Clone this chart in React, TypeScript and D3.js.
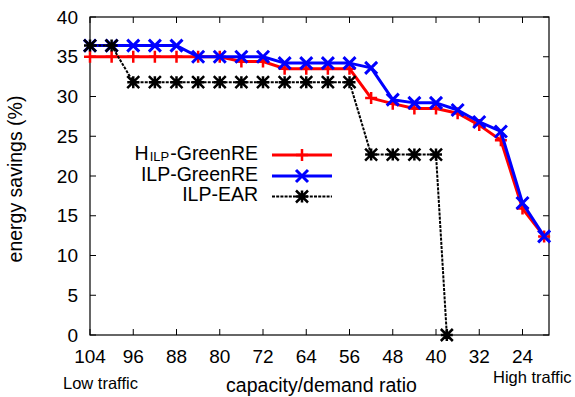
import React from "react";
import * as d3 from "d3";

const xValues = [104, 100, 96, 92, 88, 84, 80, 76, 72, 68, 64, 60, 56, 52, 48, 44, 40, 36, 32, 28, 24, 20];
const hilpGreenRE = [35, 35, 35, 35, 35, 35, 35, 34.4, 34.4, 33.5, 33.5, 33.5, 33.5, 29.8, 29.1, 28.5, 28.5, 27.9, 26.4, 24.5, 15.9, 12.4];
const ilpGreenRE = [36.4, 36.4, 36.4, 36.4, 36.4, 35, 35, 35, 35, 34.2, 34.2, 34.2, 34.2, 33.6, 29.6, 29.2, 29.2, 28.3, 26.8, 25.6, 16.6, 12.4];
const earX = [104, 100, 96, 92, 88, 84, 80, 76, 72, 68, 64, 60, 56, 52, 48, 44, 40, 38];
const ilpEAR = [36.4, 36.4, 31.8, 31.8, 31.8, 31.8, 31.8, 31.8, 31.8, 31.8, 31.8, 31.8, 31.8, 22.7, 22.7, 22.7, 22.7, 0];
const xTicks = [104, 96, 88, 80, 72, 64, 56, 48, 40, 32, 24];
const yTicks = [0, 5, 10, 15, 20, 25, 30, 35, 40];

const W = 575;
const H = 397;
const left = 90;
const right = 549;
const top = 17;
const bottom = 335;
const FONT = "'Liberation Sans', Arial, Helvetica, sans-serif";

type Marker = "plus" | "cross" | "star";

function markerPath(kind: Marker, cx: number, cy: number, r: number): string {
  const p: string[] = [];
  if (kind === "plus" || kind === "star") {
    p.push(`M${cx - r},${cy}L${cx + r},${cy}`, `M${cx},${cy - r}L${cx},${cy + r}`);
  }
  if (kind === "cross" || kind === "star") {
    p.push(`M${cx - r},${cy - r}L${cx + r},${cy + r}`, `M${cx - r},${cy + r}L${cx + r},${cy - r}`);
  }
  return p.join("");
}

export default function App() {
  const x = d3.scaleLinear().domain([104, 19.1]).range([left, right]);
  const y = d3.scaleLinear().domain([0, 40]).range([bottom, top]);
  const line = d3
    .line<[number, number]>()
    .x((d) => x(d[0]))
    .y((d) => y(d[1]));

  const series = [
    { name: "H", sub: "ILP", rest: "-GreenRE", xs: xValues, ys: hilpGreenRE, color: "#ff0000", width: 3, dash: undefined as string | undefined, marker: "plus" as Marker, mr: 6, mw: 2.5 },
    { name: "ILP-GreenRE", sub: "", rest: "", xs: xValues, ys: ilpGreenRE, color: "#0000ff", width: 3, dash: undefined, marker: "cross" as Marker, mr: 6, mw: 3 },
    { name: "ILP-EAR", sub: "", rest: "", xs: earX, ys: ilpEAR, color: "#000000", width: 2, dash: "3,1.2", marker: "star" as Marker, mr: 6, mw: 2.5 },
  ];

  const legendRows = [155, 176, 196.5];
  const legX1 = 272;
  const legX2 = 332;
  const legTextRight = 258;

  return (
    <svg width={W} height={H} style={{ position: "absolute", left: 0, top: 0, background: "#fff" }} fontFamily={FONT}>
      <rect x={0} y={0} width={W} height={H} fill="#fff" />
      {/* ticks */}
      {xTicks.map((t) => (
        <g key={"xt" + t}>
          <line x1={x(t)} x2={x(t)} y1={bottom} y2={bottom - 6} stroke="#000" strokeWidth={1} />
          <line x1={x(t)} x2={x(t)} y1={top} y2={top + 6} stroke="#000" strokeWidth={1} />
          <text x={x(t)} y={363} textAnchor="middle" fontSize={19}>{t}</text>
        </g>
      ))}
      {yTicks.map((t) => (
        <g key={"yt" + t}>
          <line x1={left} x2={left + 6} y1={y(t)} y2={y(t)} stroke="#000" strokeWidth={1} />
          <line x1={right} x2={right - 6} y1={y(t)} y2={y(t)} stroke="#000" strokeWidth={1} />
          <text x={78} y={y(t)} dy="0.35em" textAnchor="end" fontSize={19}>{t}</text>
        </g>
      ))}
      <rect x={left} y={top} width={right - left} height={bottom - top} fill="none" stroke="#000" strokeWidth={1.2} />

      {/* series */}
      {series.map((s, i) => {
        const pts: [number, number][] = s.xs.map((v, j) => [v, s.ys[j]]);
        return (
          <g key={"s" + i}>
            <path d={line(pts) || ""} fill="none" stroke={s.color} strokeWidth={s.width} strokeDasharray={s.dash} strokeLinejoin="round" />
            <path d={pts.map((p) => markerPath(s.marker, x(p[0]), y(p[1]), s.mr)).join("")} fill="none" stroke={s.color} strokeWidth={s.mw} />
          </g>
        );
      })}

      {/* legend */}
      {series.map((s, i) => {
        const ly = legendRows[i];
        return (
          <g key={"l" + i}>
            <text x={legTextRight} y={ly - 2} dy="0.35em" textAnchor="end" fontSize={19.5}>
              {s.sub ? (
                <>
                  <tspan>{s.name}</tspan>
                  <tspan fontSize={13} dx={1} dy={1}>{s.sub}</tspan>
                  <tspan dx={1} dy={-1}>{s.rest}</tspan>
                </>
              ) : (
                s.name
              )}
            </text>
            <line x1={legX1} x2={legX2} y1={ly} y2={ly} stroke={s.color} strokeWidth={s.width} strokeDasharray={s.dash} />
            <path d={markerPath(s.marker, (legX1 + legX2) / 2, ly, s.mr)} fill="none" stroke={s.color} strokeWidth={s.mw} />
          </g>
        );
      })}

      {/* axis titles */}
      <text transform={`translate(22,179) rotate(-90)`} textAnchor="middle" fontSize={19.5}>energy savings (%)</text>
      <text x={(left + right) / 2 + 2} y={392} textAnchor="middle" fontSize={19.5}>capacity/demand ratio</text>
      <text x={63} y={389} fontSize={16.5}>Low traffic</text>
      <text x={493} y={383} fontSize={16.5}>High traffic</text>
    </svg>
  );
}
